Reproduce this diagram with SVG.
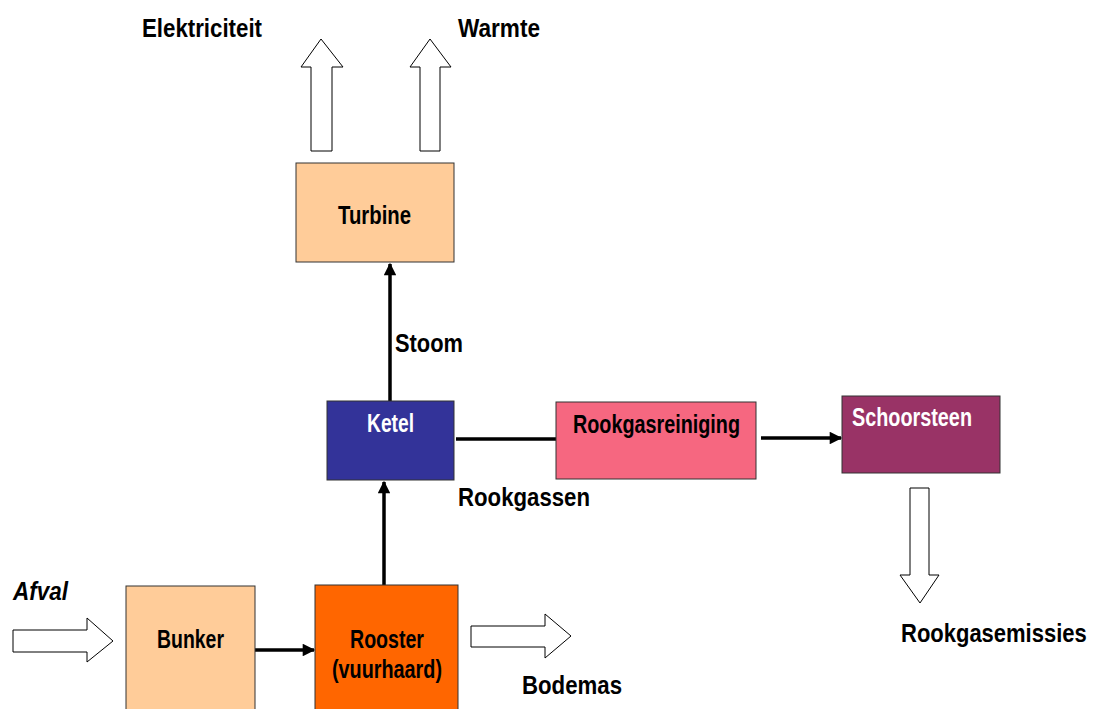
<svg xmlns="http://www.w3.org/2000/svg" width="1093" height="709" viewBox="0 0 1093 709">
<style>
text{font-family:"Liberation Sans",Arial,sans-serif;font-weight:bold;font-size:25px;fill:#000}
.box{stroke:#333;stroke-width:1}
.block{fill:#fff;stroke:#000;stroke-width:1}
.ln{stroke:#000;stroke-width:3.5;fill:none}
.w{fill:#fff}
</style>
<defs>
<marker id="ah" viewBox="0 0 10 10" refX="9" refY="5" markerWidth="3.8" markerHeight="3.6" orient="auto" markerUnits="strokeWidth">
<path d="M0,0 L10,5 L0,10 z" fill="#000"/>
</marker>
</defs>
<rect width="1093" height="709" fill="#fff"/>
<g id="connectors">
<line class="ln" x1="390" y1="401" x2="390" y2="264" marker-end="url(#ah)"/>
<line class="ln" x1="384" y1="585" x2="384" y2="482" marker-end="url(#ah)"/>
<line class="ln" x1="255" y1="650" x2="314" y2="650" marker-end="url(#ah)"/>
<line class="ln" x1="456" y1="439" x2="556" y2="439"/>
<line class="ln" x1="761" y1="438" x2="841" y2="438" marker-end="url(#ah)"/>
<path class="block" d="M311,151 L311,67 L301,67 L321,39 L343,67 L332,67 L332,151 Z"/>
<path class="block" d="M420,151 L420,67 L410,67 L430,39 L451,67 L440,67 L440,151 Z"/>
<path class="block" d="M13,630 L87,630 L87,618 L113,641 L87,662 L87,652 L13,652 Z"/>
<path class="block" d="M471,626 L545,626 L545,614 L571,636 L545,658 L545,647 L471,647 Z"/>
<path class="block" d="M910,488 L929,488 L929,575 L939,575 L920,603 L900,575 L910,575 Z"/>
</g>
<g id="turbine">
<rect class="box" x="296" y="163" width="158" height="99" fill="#FFCC99"/>
<text x="338" y="224" textLength="73" lengthAdjust="spacingAndGlyphs">Turbine</text>
</g>
<g id="ketel">
<rect class="box" x="327" y="401" width="127" height="79" fill="#333399"/>
<text class="w" x="367" y="432" textLength="47" lengthAdjust="spacingAndGlyphs">Ketel</text>
</g>
<g id="rookgasreiniging">
<rect class="box" x="556" y="402" width="200" height="77" fill="#F66780"/>
<text x="573" y="433" textLength="167" lengthAdjust="spacingAndGlyphs">Rookgasreiniging</text>
</g>
<g id="schoorsteen">
<rect class="box" x="842" y="396" width="158" height="77" fill="#993366"/>
<text class="w" x="852" y="426" textLength="120" lengthAdjust="spacingAndGlyphs">Schoorsteen</text>
</g>
<g id="bunker">
<rect class="box" x="126" y="586" width="129" height="130" fill="#FFCC99"/>
<text x="157" y="648" textLength="67" lengthAdjust="spacingAndGlyphs">Bunker</text>
</g>
<g id="rooster">
<rect class="box" x="315" y="585" width="143" height="131" fill="#FF6600"/>
<text x="350" y="648" textLength="74" lengthAdjust="spacingAndGlyphs">Rooster</text>
<text x="332" y="678" textLength="110" lengthAdjust="spacingAndGlyphs">(vuurhaard)</text>
</g>
<g id="labels">
<text x="142" y="37" textLength="120" lengthAdjust="spacingAndGlyphs">Elektriciteit</text>
<text x="458" y="37" textLength="82" lengthAdjust="spacingAndGlyphs">Warmte</text>
<text x="395" y="352" textLength="68" lengthAdjust="spacingAndGlyphs">Stoom</text>
<text x="458" y="506" textLength="132" lengthAdjust="spacingAndGlyphs">Rookgassen</text>
<text x="13" y="600" font-style="italic" textLength="55" lengthAdjust="spacingAndGlyphs">Afval</text>
<text x="522" y="694" textLength="100" lengthAdjust="spacingAndGlyphs">Bodemas</text>
<text transform="translate(901,642) scale(0.88,1)">Rookgasemissies</text>
</g>
</svg>
